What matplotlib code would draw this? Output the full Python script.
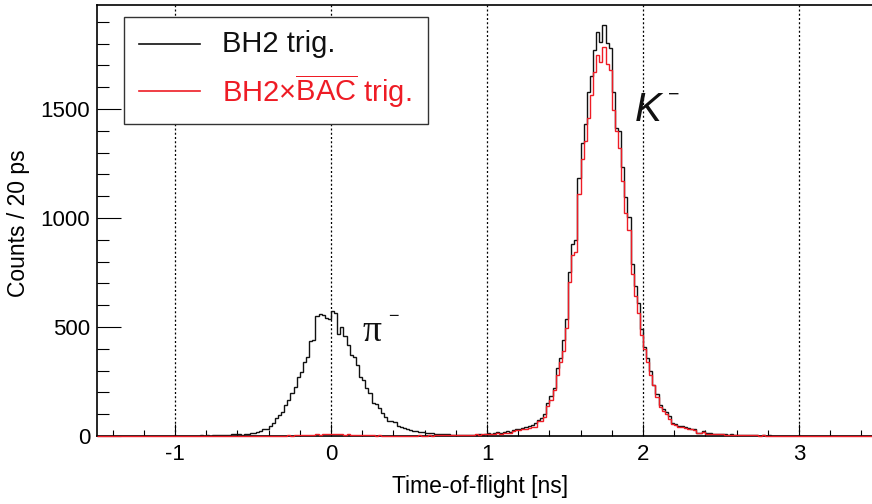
import numpy as np
import matplotlib
matplotlib.use('Agg')
import matplotlib.pyplot as plt
from matplotlib.ticker import MultipleLocator, FixedLocator
from matplotlib.patches import Rectangle
from matplotlib.lines import Line2D

plt.rcParams['font.family'] = ['Liberation Sans', 'DejaVu Sans']
plt.rcParams['mathtext.fontset'] = 'custom'
plt.rcParams['mathtext.rm'] = 'Liberation Sans'
plt.rcParams['mathtext.it'] = 'Liberation Sans:italic'
plt.rcParams['axes.unicode_minus'] = False

# ---------------- data ----------------
x_min, x_max, bin_width = -1.5, 3.5, 0.02
x_major_ticks = [-1, 0, 1, 2, 3]
y_major_ticks = [0, 500, 1000, 1500]

# BH2 trig. (black), 250 bins of 20 ps from -1.5 ns
bh2_counts = [
    0, 0, 0, 0, 1, 0, 0, 0, 0, 1,
    0, 0, 1, 0, 0, 1, 0, 0, 1, 0,
    1, 0, 1, 1, 0, 1, 0, 2, 1, 1,
    2, 1, 2, 3, 2, 3, 2, 4, 3, 5,
    4, 6, 5, 8, 7, 8, 6, 9, 10, 12,
    13, 20, 25, 31, 33, 44, 59, 82, 96, 112,
    142, 165, 196, 226, 269, 295, 341, 364, 437, 440,
    550, 558, 556, 540, 538, 573, 565, 466, 502, 460,
    417, 372, 364, 326, 269, 257, 222, 195, 150, 145,
    130, 105, 85, 70, 68, 62, 48, 42, 38, 32,
    28, 25, 22, 18, 20, 15, 13, 12, 9, 10,
    8, 7, 8, 6, 5, 6, 5, 4, 6, 5,
    4, 5, 8, 6, 9, 12, 10, 14, 18, 15,
    20, 22, 18, 28, 32, 30, 38, 42, 45, 50,
    58, 72, 82, 102, 150, 183, 220, 312, 358, 440,
    537, 754, 880, 900, 1183, 1343, 1430, 1577, 1651, 1771,
    1855, 1809, 1885, 1803, 1780, 1578, 1413, 1400, 1234, 1096,
    1005, 789, 688, 611, 491, 410, 358, 298, 236, 192,
    140, 125, 110, 92, 61, 53, 46, 44, 40, 37,
    32, 30, 16, 15, 22, 12, 12, 10, 9, 8,
    9, 7, 6, 7, 5, 6, 4, 5, 3, 4,
    3, 4, 2, 3, 2, 3, 2, 1, 2, 2,
    1, 2, 1, 1, 2, 1, 0, 1, 1, 0,
    1, 0, 1, 0, 0, 1, 0, 0, 1, 0,
    0, 1, 0, 0, 0, 1, 0, 0, 0, 0,
]

# BH2 x BAC-bar trig. (red)
bac_counts = [
    0, 0, 0, 0, 0, 0, 0, 0, 0, 0,
    0, 0, 0, 0, 0, 0, 0, 0, 0, 0,
    0, 0, 0, 0, 0, 0, 0, 1, 0, 0,
    0, 0, 1, 0, 0, 0, 1, 0, 0, 1,
    0, 1, 0, 1, 0, 1, 1, 0, 1, 1,
    1, 0, 1, 1, 2, 1, 1, 2, 1, 2,
    2, 3, 2, 3, 4, 3, 4, 5, 4, 6,
    7, 6, 8, 7, 9, 10, 8, 7, 9, 6,
    7, 5, 6, 4, 5, 4, 3, 4, 3, 2,
    3, 2, 2, 1, 2, 1, 1, 2, 1, 2,
    2, 1, 2, 3, 2, 2, 3, 2, 3, 3,
    4, 3, 4, 3, 5, 4, 5, 4, 6, 5,
    6, 7, 6, 8, 7, 8, 8, 10, 12, 10,
    14, 16, 14, 24, 28, 28, 32, 34, 38, 40,
    43, 67, 71, 89, 136, 165, 211, 280, 341, 390,
    497, 706, 830, 845, 1110, 1271, 1353, 1459, 1564, 1671,
    1748, 1717, 1786, 1706, 1679, 1495, 1400, 1323, 1170, 1023,
    945, 743, 642, 564, 463, 399, 341, 282, 232, 180,
    132, 114, 100, 76, 57, 50, 42, 40, 37, 34,
    30, 28, 15, 14, 18, 11, 11, 9, 8, 7,
    8, 6, 5, 6, 5, 5, 4, 4, 3, 4,
    3, 3, 2, 3, 2, 2, 2, 1, 2, 2,
    1, 2, 1, 2, 1, 1, 0, 1, 0, 1,
    0, 1, 0, 0, 1, 0, 1, 0, 0, 1,
    0, 0, 1, 0, 0, 1, 0, 0, 0, 0,
]

legend_labels = ['BH2 trig.', r'BH2×$\overline{\mathrm{BAC}}$ trig.']
x_label = 'Time-of-flight [ns]'
y_label = 'Counts / 20 ps'

# ---------------- figure ----------------
W, H = 872, 504
fig = plt.figure(figsize=(W / 100, H / 100), dpi=100)

def fx(p):
    return p / W

def fy(p):
    return 1 - p / H

BLACK = '#111111'
RED = '#ee1c25'

ax = fig.add_axes([fx(97), fy(436), (877 - 97) / W, (436 - 5) / H])
edges = x_min + bin_width * np.arange(len(bh2_counts) + 1)

ax.stairs(bh2_counts, edges, color=BLACK, linewidth=1.0, zorder=3)
ax.stairs(bac_counts, edges, color=RED, linewidth=1.0, zorder=4, clip_on=False)

ax.set_xlim(x_min, x_max)
ax.set_ylim(0, 1977)

ax.xaxis.set_major_locator(FixedLocator(x_major_ticks))
ax.xaxis.set_minor_locator(MultipleLocator(0.2))
ax.yaxis.set_major_locator(FixedLocator(y_major_ticks))
ax.yaxis.set_minor_locator(MultipleLocator(100))

ax.tick_params(axis='both', which='both', direction='in', width=0.8,
               labelsize=16, colors='black')
ax.tick_params(axis='x', which='major', length=9, pad=6)
ax.tick_params(axis='x', which='minor', length=4.5)
ax.tick_params(axis='y', which='major', length=17.5, pad=5)
ax.tick_params(axis='y', which='minor', length=8.5)

for s in ['left', 'bottom', 'top']:
    ax.spines[s].set_linewidth(1.2)
    ax.spines[s].set_color('black')
ax.spines['right'].set_visible(False)

ax.grid(axis='x', which='major', color='black', linestyle=(0, (1.6, 1.8)),
        linewidth=0.9, zorder=1)
ax.set_axisbelow(True)

# axis titles
fig.text(fx(480), fy(487), x_label, fontsize=16.5, ha='center', va='center')
fig.text(fx(18), fy(223), y_label, fontsize=16.5, ha='center', va='center',
         rotation=90)

# particle labels
fig.text(fx(635), fy(121), 'K', fontsize=29, style='italic', ha='left',
         va='baseline', color=BLACK)
fig.text(fx(674), fy(95), '\u2212', fontsize=14, ha='center', va='center',
         color=BLACK)
fig.text(fx(362), fy(341), '\u03c0', fontsize=27, ha='left', va='baseline',
         family=['Liberation Serif', 'DejaVu Serif'], color=BLACK)
fig.text(fx(393), fy(316), '\u2212', fontsize=13, ha='center', va='center',
         color=BLACK)

# legend box
box = Rectangle((fx(124), fy(124)), fx(428) - fx(124), fy(17) - fy(124),
                transform=fig.transFigure, facecolor='white',
                edgecolor='#333333', linewidth=1.0, zorder=10)
fig.add_artist(box)
for yy, col, lab in [(44, BLACK, legend_labels[0]), (91, RED, legend_labels[1])]:
    fig.add_artist(Line2D([fx(139), fx(200)], [fy(yy), fy(yy)],
                          transform=fig.transFigure, color=col,
                          linewidth=1.2, zorder=11))
    fig.text(fx(222), fy(yy), lab, fontsize=21, color=col, ha='left',
             va='center', zorder=12)

fig.savefig('out.png', dpi=100)
